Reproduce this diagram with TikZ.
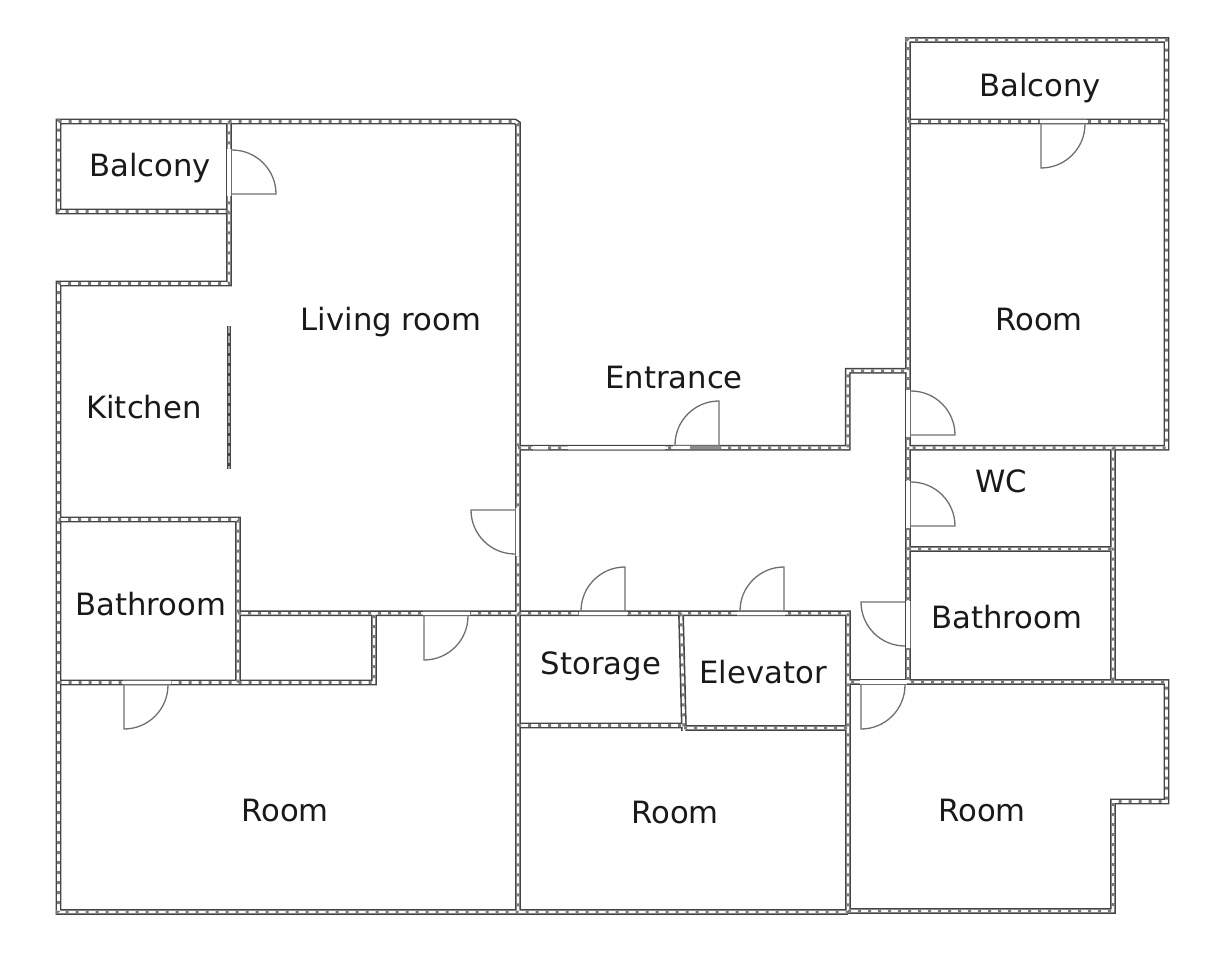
\documentclass[tikz,border=0pt]{standalone}
\usepackage{fontspec}
\setmainfont{DejaVu Sans}
\definecolor{wallgray}{HTML}{454545}
\definecolor{hatchgray}{HTML}{7A7A7A}
\definecolor{doorgray}{HTML}{6E6E6E}
\newcommand{\wallpath}{
    (58.5,121.5) -- (515,121.5) -- (518,123.5) -- (518,912)
    (58.5,118.6) -- (58.5,211.5) -- (229,211.5)
    (229,121.5) -- (229,283.5) -- (58.5,283.5) -- (58.5,912)
    (55.6,912) -- (848,912)
    (848,911) -- (1113,911) -- (1113,801.5) -- (1166.5,801.5) -- (1166.5,682) -- (848,682)
    (238,613.3) -- (848,613.3) -- (848,912)
    (518,447.7) -- (847.7,447.7) -- (847.7,370.7) -- (908,370.7)
    (908,37.1) -- (908,682)
    (905.1,40) -- (1166.5,40) -- (1166.5,447.7) -- (908,447.7)
    (908,121.5) -- (1166.5,121.5)
    (1113,447.7) -- (1113,682)
    (908,549) -- (1113,549)
    (518,725.5) -- (682,725.5)
    (684,728) -- (848,728)
    (681,613.3) -- (684,730.9)
    (58.5,682.5) -- (374,682.5) -- (374,613.3)
    (238,682.5) -- (238,519.5) -- (58.5,519.5)
}
\tikzset{
    wallbase/.style={draw=wallgray,line width=5.8pt},
    wallgap/.style={draw=white,line width=2.6pt},
    wallhatch/.style={draw=hatchgray,line width=2.6pt,dash pattern=on 3pt off 7pt},
    wallfade/.style={draw=black!35,line width=0.8pt,double=white,double distance=2.6pt},
    doorgap/.style={draw=doorgray,line width=0.9pt,double=white,double distance=3.2pt},
    doorleaf/.style={draw=doorgray,line width=1.3pt},
    label/.style={font=\fontsize{30.7}{34}\selectfont,text=black!90,inner sep=0pt},
}
\begin{document}
\begin{tikzpicture}[x=1pt,y=-1pt]
    \useasboundingbox (0,0) rectangle (1229,960);

    % walls
    \draw[wallbase] \wallpath;
    \draw[wallgap] \wallpath;
    \draw[wallhatch] \wallpath;

    % faded part of the wall over the entrance
    \draw[wallfade] (533,447.7) -- (548,447.7) (568,447.7) -- (665,447.7);

    % kitchen counter
    \draw[draw=wallgray,line width=4.5pt] (229,326) -- (229,469);
    \draw[draw=black!35,line width=1.2pt,dash pattern=on 7pt off 3pt] (229,326) -- (229,469);

    % door openings
    \foreach \ax/\ay/\bx/\by in {229/149/229/196,1040/121.5/1087/121.5,908/390/908/437,908/481/908/528,
        908/601/908/648,860/682/907/682,673/447.7/720/447.7,517.5/508/517.5/556,
        579/613.3/627/613.3,737/613.3/785/613.3,423/613.3/470/613.3,123/682.5/171/682.5}{
        \draw[doorgap] (\ax,\ay) -- (\bx,\by);
    }
    \draw[draw=black!45,line width=3pt] (690,447.7) -- (720,447.7);

    % door leaves, hinge and direction of the leaf
    \foreach \hx/\hy/\ang in {232/194/0,1041/124/90,911/435/0,911/526/0,
        905/602/180,861/685/90,719/445/-90,515/510/180,
        625/611/-90,784/611/-90,424/616/90,124/685/90}{
        \draw[doorleaf] (\hx,\hy) -- ++(\ang:44) arc[start angle=\ang,delta angle=-90,radius=44];
    }

    \node[label] (balconyA) at (150,168) {Balcony};
    \node[label] (balconyB) at (1040,88) {Balcony};
    \node[label] (living) at (391,322) {Living room};
    \node[label] (kitchen) at (144,407) {Kitchen};
    \node[label] (entrance) at (674,378) {Entrance};
    \node[label] (roomA) at (1039,320) {Room};
    \node[label] (wc) at (1001,481) {WC};
    \node[label] (bathA) at (151,604) {Bathroom};
    \node[label] (bathB) at (1007,617) {Bathroom};
    \node[label] (storage) at (601,666) {Storage};
    \node[label] (elevator) at (763,672) {Elevator};
    \node[label] (roomB) at (285,811) {Room};
    \node[label] (roomC) at (675,813) {Room};
    \node[label] (roomD) at (982,811) {Room};
\end{tikzpicture}
\end{document}
